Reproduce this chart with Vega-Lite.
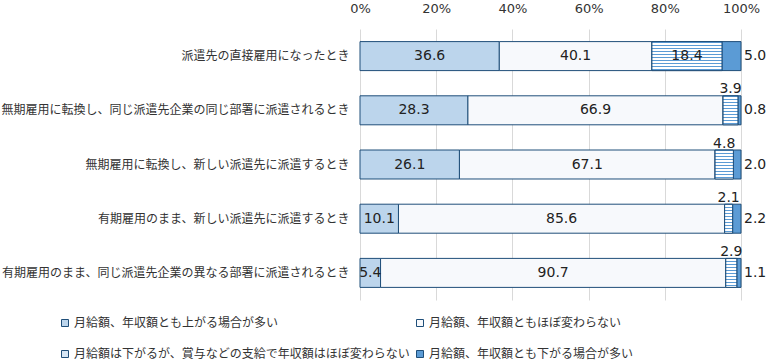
{
  "$schema": "https://vega.github.io/schema/vega-lite/v6.json",
  "width": 381,
  "height": 271,
  "autosize": "none",
  "padding": {"left": 360, "top": 29, "right": 25, "bottom": 61},
  "background": "white",
  "config": {"view": {"stroke": null}},
  "data": {"values": [
    {"item": "派遣先の直接雇用になったとき", "cat": "月給額、年収額とも上がる場合が多い", "k": 1, "v": 36.6},
    {"item": "派遣先の直接雇用になったとき", "cat": "月給額、年収額ともほぼ変わらない", "k": 2, "v": 40.1},
    {"item": "派遣先の直接雇用になったとき", "cat": "月給額は下がるが、賞与などの支給で年収額はほぼ変わらない", "k": 3, "v": 18.4},
    {"item": "派遣先の直接雇用になったとき", "cat": "月給額、年収額とも下がる場合が多い", "k": 4, "v": 5.0},
    {"item": "無期雇用に転換し、同じ派遣先企業の同じ部署に派遣されるとき", "cat": "月給額、年収額とも上がる場合が多い", "k": 1, "v": 28.3},
    {"item": "無期雇用に転換し、同じ派遣先企業の同じ部署に派遣されるとき", "cat": "月給額、年収額ともほぼ変わらない", "k": 2, "v": 66.9},
    {"item": "無期雇用に転換し、同じ派遣先企業の同じ部署に派遣されるとき", "cat": "月給額は下がるが、賞与などの支給で年収額はほぼ変わらない", "k": 3, "v": 3.9},
    {"item": "無期雇用に転換し、同じ派遣先企業の同じ部署に派遣されるとき", "cat": "月給額、年収額とも下がる場合が多い", "k": 4, "v": 0.8},
    {"item": "無期雇用に転換し、新しい派遣先に派遣するとき", "cat": "月給額、年収額とも上がる場合が多い", "k": 1, "v": 26.1},
    {"item": "無期雇用に転換し、新しい派遣先に派遣するとき", "cat": "月給額、年収額ともほぼ変わらない", "k": 2, "v": 67.1},
    {"item": "無期雇用に転換し、新しい派遣先に派遣するとき", "cat": "月給額は下がるが、賞与などの支給で年収額はほぼ変わらない", "k": 3, "v": 4.8},
    {"item": "無期雇用に転換し、新しい派遣先に派遣するとき", "cat": "月給額、年収額とも下がる場合が多い", "k": 4, "v": 2.0},
    {"item": "有期雇用のまま、新しい派遣先に派遣するとき", "cat": "月給額、年収額とも上がる場合が多い", "k": 1, "v": 10.1},
    {"item": "有期雇用のまま、新しい派遣先に派遣するとき", "cat": "月給額、年収額ともほぼ変わらない", "k": 2, "v": 85.6},
    {"item": "有期雇用のまま、新しい派遣先に派遣するとき", "cat": "月給額は下がるが、賞与などの支給で年収額はほぼ変わらない", "k": 3, "v": 2.1},
    {"item": "有期雇用のまま、新しい派遣先に派遣するとき", "cat": "月給額、年収額とも下がる場合が多い", "k": 4, "v": 2.2},
    {"item": "有期雇用のまま、同じ派遣先企業の異なる部署に派遣されるとき", "cat": "月給額、年収額とも上がる場合が多い", "k": 1, "v": 5.4},
    {"item": "有期雇用のまま、同じ派遣先企業の異なる部署に派遣されるとき", "cat": "月給額、年収額ともほぼ変わらない", "k": 2, "v": 90.7},
    {"item": "有期雇用のまま、同じ派遣先企業の異なる部署に派遣されるとき", "cat": "月給額は下がるが、賞与などの支給で年収額はほぼ変わらない", "k": 3, "v": 2.9},
    {"item": "有期雇用のまま、同じ派遣先企業の異なる部署に派遣されるとき", "cat": "月給額、年収額とも下がる場合が多い", "k": 4, "v": 1.1}
  ]},
  "transform": [
    {"stack": "v", "groupby": ["item"], "sort": [{"field": "k", "order": "ascending"}], "offset": "normalize", "as": ["x0", "x1"]}
  ],
  "encoding": {
    "y": {
      "field": "item", "type": "nominal",
      "sort": ["派遣先の直接雇用になったとき", "無期雇用に転換し、同じ派遣先企業の同じ部署に派遣されるとき", "無期雇用に転換し、新しい派遣先に派遣するとき", "有期雇用のまま、新しい派遣先に派遣するとき", "有期雇用のまま、同じ派遣先企業の異なる部署に派遣されるとき"],
      "scale": {"paddingInner": 0.465, "paddingOuter": 0.2325},
      "axis": {"title": null, "ticks": false, "domain": false, "labelFont": "Noto Sans CJK JP", "labelFontSize": 12, "labelLimit": 400, "labelPadding": 11, "labelColor": "#333333"}
    }
  },
  "layer": [
    {
      "mark": {"type": "bar", "stroke": "#1f4e79", "strokeWidth": 1},
      "encoding": {
        "x": {"field": "x0", "type": "quantitative", "scale": {"domain": [0, 1]},
          "axis": {"orient": "top", "title": null, "format": ".0%", "values": [0, 0.2, 0.4, 0.6, 0.8, 1], "grid": true, "gridColor": "#d9d9d9", "ticks": false, "domain": false, "labelFlush": false, "labelFont": "DejaVu Sans", "labelFontSize": 13, "labelColor": "#333333", "labelPadding": 14}},
        "x2": {"field": "x1"},
        "fill": {
          "field": "cat", "type": "nominal",
          "scale": {
            "domain": ["月給額、年収額とも上がる場合が多い", "月給額、年収額ともほぼ変わらない", "月給額は下がるが、賞与などの支給で年収額はほぼ変わらない", "月給額、年収額とも下がる場合が多い"],
            "range": ["#bcd5ec", "#f7f9fc", "#d6e6f5", "#5b9bd5"]
          },
          "legend": {"orient": "none", "direction": "horizontal", "legendX": -301, "legendY": 288, "columns": 2, "title": null, "symbolType": "square", "symbolSize": 49, "symbolStrokeColor": "#1f4e79", "symbolStrokeWidth": 1, "labelFont": "Noto Sans CJK JP", "labelFontSize": 12, "labelColor": "#333333", "labelLimit": 400, "rowPadding": 19, "columnPadding": 4, "labelOffset": 3}
        }
      }
    },
    {
      "transform": [{"filter": "datum.k == 3"}],
      "mark": {"type": "bar", "stroke": "#1f4e79", "strokeWidth": 1,
        "fill": {"gradient": "linear", "x1": 0, "y1": 0, "x2": 0, "y2": 1, "stops": [
          {"offset": 0, "color": "#5b9bd5"}, {"offset": 0.0345, "color": "#5b9bd5"}, {"offset": 0.0345, "color": "#ffffff"}, {"offset": 0.1034, "color": "#ffffff"},
          {"offset": 0.1034, "color": "#5b9bd5"}, {"offset": 0.1379, "color": "#5b9bd5"}, {"offset": 0.1379, "color": "#ffffff"}, {"offset": 0.2069, "color": "#ffffff"},
          {"offset": 0.2069, "color": "#5b9bd5"}, {"offset": 0.2414, "color": "#5b9bd5"}, {"offset": 0.2414, "color": "#ffffff"}, {"offset": 0.3103, "color": "#ffffff"},
          {"offset": 0.3103, "color": "#5b9bd5"}, {"offset": 0.3448, "color": "#5b9bd5"}, {"offset": 0.3448, "color": "#ffffff"}, {"offset": 0.4138, "color": "#ffffff"},
          {"offset": 0.4138, "color": "#5b9bd5"}, {"offset": 0.4483, "color": "#5b9bd5"}, {"offset": 0.4483, "color": "#ffffff"}, {"offset": 0.5172, "color": "#ffffff"},
          {"offset": 0.5172, "color": "#5b9bd5"}, {"offset": 0.5517, "color": "#5b9bd5"}, {"offset": 0.5517, "color": "#ffffff"}, {"offset": 0.6207, "color": "#ffffff"},
          {"offset": 0.6207, "color": "#5b9bd5"}, {"offset": 0.6552, "color": "#5b9bd5"}, {"offset": 0.6552, "color": "#ffffff"}, {"offset": 0.7241, "color": "#ffffff"},
          {"offset": 0.7241, "color": "#5b9bd5"}, {"offset": 0.7586, "color": "#5b9bd5"}, {"offset": 0.7586, "color": "#ffffff"}, {"offset": 0.8276, "color": "#ffffff"},
          {"offset": 0.8276, "color": "#5b9bd5"}, {"offset": 0.8621, "color": "#5b9bd5"}, {"offset": 0.8621, "color": "#ffffff"}, {"offset": 0.931, "color": "#ffffff"},
          {"offset": 0.931, "color": "#5b9bd5"}, {"offset": 0.9655, "color": "#5b9bd5"}, {"offset": 0.9655, "color": "#ffffff"}, {"offset": 1, "color": "#ffffff"}
        ]}},
      "encoding": {
        "x": {"field": "x0", "type": "quantitative"},
        "x2": {"field": "x1"}
      }
    },
    {
      "transform": [
        {"filter": "datum.k <= 2 || (datum.k == 3 && datum.v >= 10)"},
        {"fold": ["x0", "x1"], "as": ["edge", "pos"]}
      ],
      "mark": {"type": "text", "font": "DejaVu Sans", "fontSize": 14, "color": "#222222"},
      "encoding": {
        "x": {"aggregate": "mean", "field": "pos", "type": "quantitative"},
        "text": {"field": "v", "type": "quantitative", "format": ".1f"}
      }
    },
    {
      "transform": [
        {"filter": "datum.k == 3 && datum.v < 10"},
        {"fold": ["x0", "x1"], "as": ["edge", "pos"]}
      ],
      "mark": {"type": "text", "font": "DejaVu Sans", "fontSize": 14, "color": "#222222", "dy": -21},
      "encoding": {
        "x": {"aggregate": "mean", "field": "pos", "type": "quantitative"},
        "text": {"field": "v", "type": "quantitative", "format": ".1f"}
      }
    },
    {
      "transform": [{"filter": "datum.k == 4"}],
      "mark": {"type": "text", "font": "DejaVu Sans", "fontSize": 14, "color": "#222222", "align": "left", "dx": 3},
      "encoding": {
        "x": {"field": "x1", "type": "quantitative"},
        "text": {"field": "v", "type": "quantitative", "format": ".1f"}
      }
    }
  ]
}
